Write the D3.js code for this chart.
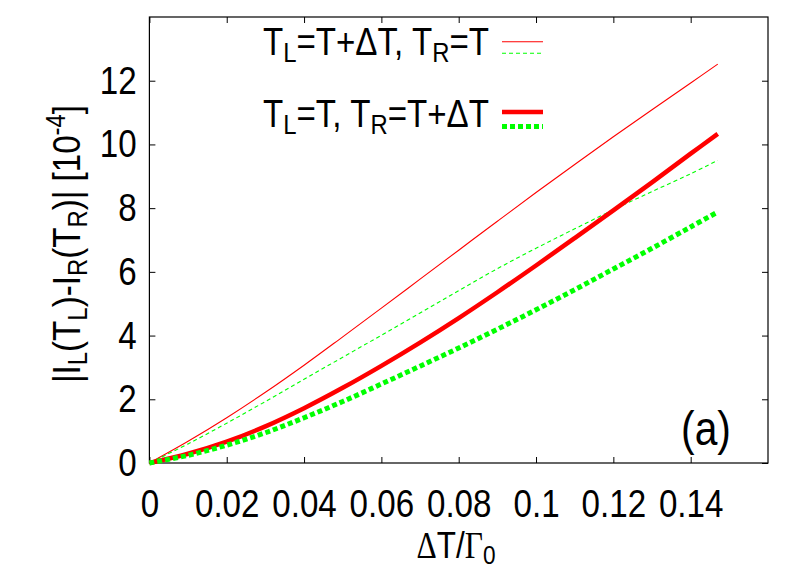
<!DOCTYPE html>
<html>
<head>
<meta charset="utf-8">
<script src="https://cdn.jsdelivr.net/npm/d3@7"></script>
<style>
	body { margin: 0; background: #fff; }
	svg { display: block; font-family: "Liberation Sans", Arial, sans-serif; }
</style>
</head>
<body>
<div id="chart"></div>
<script>
// x values (dT / Gamma0) shared by all four curves
const xValues = [0, 0.01, 0.02, 0.03, 0.04, 0.05, 0.06, 0.07, 0.08, 0.09, 0.10, 0.11, 0.12, 0.13, 0.14, 0.147];

// T_L = T + dT, T_R = T
const warmLeftRed = [0, 0.68, 1.42, 2.22, 3.07, 3.96, 4.86, 5.77, 6.68, 7.59, 8.49, 9.37, 10.24, 11.09, 11.93, 12.52];
const warmLeftGreen = [0, 0.60, 1.25, 1.93, 2.63, 3.32, 4.01, 4.71, 5.41, 6.10, 6.74, 7.35, 7.95, 8.52, 9.08, 9.50];

// T_L = T, T_R = T + dT
const warmRightRed = [0, 0.29, 0.67, 1.15, 1.72, 2.36, 3.05, 3.78, 4.55, 5.36, 6.20, 7.06, 7.93, 8.81, 9.71, 10.33];
const warmRightGreen = [0, 0.24, 0.56, 0.95, 1.42, 1.93, 2.48, 3.04, 3.61, 4.20, 4.81, 5.44, 6.09, 6.74, 7.41, 7.88];

const xTicks = [0, 0.02, 0.04, 0.06, 0.08, 0.1, 0.12, 0.14];
const yTicks = [0, 2, 4, 6, 8, 10, 12];

const W = 803, H = 578;
const margin = { top: 17, right: 35, bottom: 115, left: 149.4 };
const width = W - margin.left - margin.right,
	height = H - margin.top - margin.bottom;
const squeeze = 0.85;   // the reference font is a little narrow

const svg = d3.select('#chart').append('svg')
	.attr('width', W)
	.attr('height', H);

const g = svg.append('g')
	.attr('transform', `translate(${margin.left},${margin.top})`);

const xScale = d3.scaleLinear().domain([0, 0.16]).range([0, width]);
const yScale = d3.scaleLinear().domain([0, 14]).range([height, 0]);

//Axes, ticks pointing inwards, mirrored on top and right
g.append('g')
	.attr('transform', `translate(0,${height})`)
	.call(d3.axisBottom(xScale).tickValues(xTicks).tickFormat(d3.format('~g'))
		.tickSizeInner(-6).tickSizeOuter(0).tickPadding(26))
	.call(a => a.select('.domain').remove())
	.selectAll('text')
	.style('font-size', '39px')
	.attr('transform', `scale(${squeeze},1)`);

g.append('g')
	.call(d3.axisLeft(yScale).tickValues(yTicks)
		.tickSizeInner(-6).tickSizeOuter(0).tickPadding(15))
	.call(a => a.select('.domain').remove())
	.selectAll('text')
	.style('font-size', '39px')
	.attr('transform', `scale(${squeeze},1)`);

g.append('g')
	.call(d3.axisTop(xScale).tickValues(xTicks).tickFormat('')
		.tickSizeInner(-6).tickSizeOuter(0))
	.call(a => a.select('.domain').remove());

g.append('g')
	.attr('transform', `translate(${width},0)`)
	.call(d3.axisRight(yScale).tickValues(yTicks).tickFormat('')
		.tickSizeInner(-6).tickSizeOuter(0))
	.call(a => a.select('.domain').remove());

g.selectAll('.tick line').attr('stroke', '#000').attr('stroke-width', 1);

g.append('rect')
	.attr('width', width)
	.attr('height', height)
	.attr('fill', 'none')
	.attr('stroke', '#000')
	.attr('stroke-width', 1.2);

//Curves
const series = [
	{ values: warmLeftRed, color: '#ff0000', w: 1.1, dash: null },
	{ values: warmLeftGreen, color: '#00ff00', w: 1.1, dash: '4,3' },
	{ values: warmRightRed, color: '#ff0000', w: 4.5, dash: null },
	{ values: warmRightGreen, color: '#00ff00', w: 5, dash: '5,3' }
];

const line = d3.line()
	.x(d => xScale(d[0]))
	.y(d => yScale(d[1]))
	.curve(d3.curveCatmullRom.alpha(0.5));

g.selectAll('path.curve')
	.data(series)
	.enter()
	.append('path')
	.attr('class', 'curve')
	.attr('d', s => line(xValues.map((x, i) => [x, s.values[i]])))
	.attr('fill', 'none')
	.attr('stroke', s => s.color)
	.attr('stroke-width', s => s.w)
	.attr('stroke-dasharray', s => s.dash);

//Text with sub/superscripts: parts = [[text, 'sub'|'sup'|null, font?], ...]
function richText(sel, parts, size) {
	parts.forEach(([t, kind, font], i) => {
		let prev = i > 0 ? parts[i - 1][1] : null;
		let shift = 0;
		if (prev === 'sub') shift -= size * 0.17;
		if (prev === 'sup') shift += size * 0.38;
		if (kind === 'sub') shift += size * 0.17;
		if (kind === 'sup') shift -= size * 0.38;
		let ts = sel.append('tspan')
			.attr('dy', shift)
			.style('font-size', kind ? (size * 0.72) + 'px' : size + 'px')
			.text(t);
		if (font) ts.style('font-family', font);
	});
}

//Legend
const legend = [
	{ parts: [['T'], ['L', 'sub'], ['=T+\u0394T, T'], ['R', 'sub'], ['=T']], y: 55, lines: [0, 1], ly: [41.7, 53.3] },
	{ parts: [['T'], ['L', 'sub'], ['=T, T'], ['R', 'sub'], ['=T+\u0394T']], y: 127, lines: [2, 3], ly: [112, 126.5] }
];

legend.forEach(item => {
	let t = svg.append('text')
		.attr('text-anchor', 'end')
		.attr('transform', `translate(489,${item.y}) scale(${squeeze},1)`);
	richText(t, item.parts, 39);
	item.lines.forEach((k, j) => {
		let s = series[k];
		svg.append('line')
			.attr('x1', 502).attr('x2', 543)
			.attr('y1', item.ly[j]).attr('y2', item.ly[j])
			.attr('stroke', s.color)
			.attr('stroke-width', s.w)
			.attr('stroke-dasharray', s.dash);
	});
});

//Axis titles
let yLabel = svg.append('text')
	.attr('text-anchor', 'middle')
	.attr('transform', `translate(80,244) rotate(-90) scale(${squeeze},1)`);
richText(yLabel, [['|I'], ['L', 'sub'], ['(T'], ['L', 'sub'], [')-I'], ['R', 'sub'], ['(T'], ['R', 'sub'], [')| [10'], ['-4', 'sup'], [']']], 39);

const serif = '"Liberation Serif", "Times New Roman", serif';
let xLabel = svg.append('text')
	.attr('text-anchor', 'middle')
	.attr('transform', `translate(456,558) scale(${squeeze},1)`);
richText(xLabel, [['\u0394', null, serif], ['T/'], ['\u0393', null, serif], ['0', 'sub']], 37);

svg.append('text')
	.attr('text-anchor', 'middle')
	.attr('transform', `translate(706,445) scale(${squeeze},1)`)
	.style('font-size', '48px')
	.text('(a)');
</script>
</body>
</html>
